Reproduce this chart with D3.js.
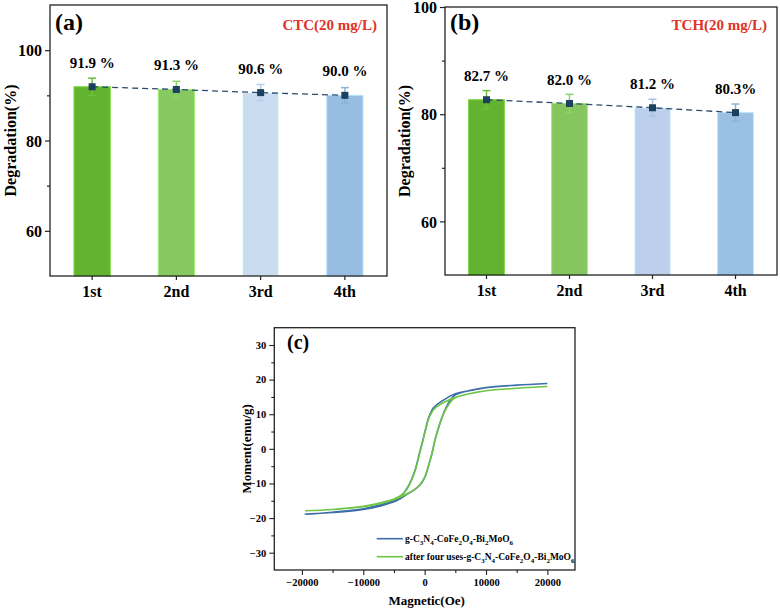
<!DOCTYPE html>
<html><head><meta charset="utf-8">
<script src="https://cdn.jsdelivr.net/npm/d3@7"></script>
<style>
body{margin:0;background:#fff}
svg{display:block}
text{font-family:"Liberation Serif","Times New Roman",serif;font-weight:bold;fill:#000}
</style>
</head><body><svg id="chart" width="780" height="610"></svg>
<script>
// ---------- data ----------
const cycles = ["1st", "2nd", "3rd", "4th"];
const ctcValues = [91.9, 91.3, 90.6, 90.0];
const ctcErrors = [1.9, 1.8, 1.8, 1.7];
const ctcLabels = ["91.9 %", "91.3 %", "90.6 %", "90.0 %"];
const tchValues = [82.7, 82.0, 81.2, 80.3];
const tchErrors = [1.7, 1.7, 1.6, 1.6];
const tchLabels = ["82.7 %", "82.0 %", "81.2 %", "80.3%"];
const degTicks = [60, 80, 100];
const degMinor = [70, 90];

const hystField = [20000, 15000, 10000, 7500, 5000, 4000, 3000, 2000, 1400, 1000, 600, 250, 0, -300, -850, -1550, -2400, -3200, -4000, -5000, -7000, -10000, -15000, -19500,
  -15000, -10000, -7000, -5000, -4000, -3000, -1800, -700, 0, 600, 1200, 1700, 2500, 3300, 4200, 5000, 7500, 10000, 15000, 20000];
const momentFresh = [18.9, 18.4, 17.7, 16.9, 15.9, 15.1, 14.0, 12.8, 11.8, 10.5, 8.8, 6.4, 4.6, 2.4, -1.3, -6.1, -9.9, -12.3, -13.8, -14.9, -16.1, -17.3, -18.3, -18.9,
  -18.4, -17.5, -16.4, -15.3, -14.4, -13.3, -12.0, -10.3, -8.3, -5.1, -1.3, 2.6, 7.4, 11.2, 14.2, 15.6, 16.9, 17.7, 18.4, 18.9];
const momentUsed = [18.0, 17.5, 16.8, 16.0, 14.9, 14.2, 13.3, 12.2, 11.2, 10.0, 8.4, 6.2, 4.5, 2.3, -1.5, -6.3, -10.1, -12.4, -13.6, -14.5, -15.5, -16.6, -17.5, -17.9,
  -17.5, -16.7, -15.7, -14.7, -14.0, -13.1, -11.9, -10.2, -8.2, -5.0, -1.2, 2.7, 7.5, 11.0, 13.5, 14.8, 16.0, 16.8, 17.5, 18.0];
const magXTicks = [-20000, -10000, 0, 10000, 20000];
const magXMinor = [-15000, -5000, 5000, 15000];
const magYTicks = [-30, -20, -10, 0, 10, 20, 30];
const magYMinor = [-25, -15, -5, 5, 15, 25];

// ---------- styles ----------
const barFillA = ["#62b330", "#86c862", "#c9dcf0", "#97bee2"];
const barFillB = ["#63b230", "#85c65e", "#bccfec", "#9ac0e3"];
const errColA = ["#6cc03a", "#8fd06a", "#b5cfea", "#88b3dc"];
const errColB = ["#6cc03a", "#8fd06a", "#a9c2e6", "#88b3dc"];
const markColor = "#1d3f60";
const freshColor = "#3d6ea8";
const usedColor = "#6cc644";

const svg = d3.select("#chart");

function barPanel(o) {
  const g = svg.append("g");
  const x = d3.scaleBand().domain(cycles).range([o.x0, o.x1]).paddingInner(0.57).paddingOuter(0.285);
  const y = d3.scaleLinear().domain(o.domain).range([o.y1, o.y0]);
  g.selectAll("rect.bar").data(o.values).join("rect")
    .attr("x", (d, i) => x(cycles[i])).attr("width", x.bandwidth())
    .attr("y", d => y(d)).attr("height", d => y(o.domain[0]) - y(d))
    .attr("fill", (d, i) => o.fills[i]).attr("stroke", (d, i) => d3.color(o.fills[i]).brighter(0.5)).attr("stroke-width", 1);
  const cx = i => x(cycles[i]) + x.bandwidth() / 2;
  o.values.forEach((v, i) => {
    const eg = g.append("g").attr("stroke", o.errCols[i]).attr("stroke-width", 1.5);
    eg.append("line").attr("x1", cx(i)).attr("x2", cx(i)).attr("y1", y(v + o.errors[i])).attr("y2", y(v - o.errors[i]));
    eg.append("line").attr("x1", cx(i) - 4).attr("x2", cx(i) + 4).attr("y1", y(v + o.errors[i])).attr("y2", y(v + o.errors[i]));
    eg.append("line").attr("x1", cx(i) - 4).attr("x2", cx(i) + 4).attr("y1", y(v - o.errors[i])).attr("y2", y(v - o.errors[i]));
  });
  const line = d3.line().x((d, i) => cx(i)).y(d => y(d));
  g.append("path").datum(o.values).attr("d", line).attr("fill", "none")
    .attr("stroke", "#2c4c6e").attr("stroke-width", 1.3).attr("stroke-dasharray", "6,4");
  g.selectAll("rect.mk").data(o.values).join("rect")
    .attr("x", (d, i) => cx(i) - 3.5).attr("y", d => y(d) - 3.5).attr("width", 7).attr("height", 7).attr("fill", markColor);
  g.selectAll("text.val").data(o.labels).join("text")
    .attr("x", (d, i) => cx(i)).attr("y", (d, i) => y(o.values[i]) - o.labelOff)
    .attr("text-anchor", "middle").attr("font-size", 15).text(d => d);
  const ya = g.append("g").attr("transform", `translate(${o.x0},0)`)
    .call(d3.axisLeft(y).tickValues(degTicks).tickSize(5).tickPadding(3).tickFormat(d3.format("d")));
  ya.selectAll("text").attr("font-size", 16).attr("dy", "0.36em");
  g.append("g").attr("transform", `translate(${o.x0},0)`)
    .call(d3.axisLeft(y).tickValues(degMinor).tickSize(3).tickFormat(""));
  const xa = g.append("g").attr("transform", `translate(0,${o.y1})`)
    .call(d3.axisBottom(x).tickSize(4).tickPadding(6));
  xa.selectAll("text").attr("font-size", 16);
  g.selectAll(".domain").remove();
  g.selectAll(".tick line").attr("stroke", "#222").attr("stroke-width", 1.2);
  g.append("rect").attr("x", o.x0).attr("y", o.y0).attr("width", o.x1 - o.x0).attr("height", o.y1 - o.y0)
    .attr("fill", "none").attr("stroke", "#222").attr("stroke-width", 1.3);
  g.append("text").attr("x", o.ytx).attr("y", (o.y0 + o.y1) / 2).attr("font-size", 16)
    .attr("text-anchor", "middle").attr("transform", `rotate(-90,${o.ytx},${(o.y0 + o.y1) / 2})`).attr("dy", "0.35em")
    .text("Degradation(%)");
  g.append("text").attr("x", o.tagX).attr("y", 30).attr("font-size", 24).text(o.tag);
  g.append("text").attr("x", o.x1 - 10).attr("y", 30).attr("font-size", 15).attr("text-anchor", "end")
    .style("fill", "#e03228").text(o.title);
}

barPanel({x0: 50, x1: 387, y0: 5, y1: 276, domain: [50, 110], values: ctcValues, errors: ctcErrors, labels: ctcLabels,
  fills: barFillA, errCols: errColA, labelOff: 19, ytx: 10, tag: "(a)", tagX: 55, title: "CTC(20 mg/L)"});
barPanel({x0: 445, x1: 777, y0: 7, y1: 275, domain: [50, 100], values: tchValues, errors: tchErrors, labels: tchLabels,
  fills: barFillB, errCols: errColB, labelOff: 18.5, ytx: 404, tag: "(b)", tagX: 450, title: "TCH(20 mg/L)"});

// ---------- panel c ----------
(function () {
  const x0 = 274.3, x1 = 575, y0 = 327.7, y1 = 570;
  const g = svg.append("g");
  const x = d3.scaleLinear().domain([-24500, 24500]).range([x0, x1]);
  const y = d3.scaleLinear().domain([-35, 35]).range([y1, y0]);
  const pts = (arr) => hystField.map((h, i) => [h, arr[i]]);
  const line = d3.line().x(d => x(d[0])).y(d => y(d[1])).curve(d3.curveCatmullRom.alpha(0.5));
  g.append("path").datum(pts(momentFresh)).attr("d", line).attr("fill", "none").attr("stroke", freshColor).attr("stroke-width", 1.6);
  g.append("path").datum(pts(momentUsed)).attr("d", line).attr("fill", "none").attr("stroke", usedColor).attr("stroke-width", 1.6);

  const xa = g.append("g").attr("transform", `translate(0,${y1})`)
    .call(d3.axisBottom(x).tickValues(magXTicks).tickSize(5).tickPadding(4).tickFormat(d3.format("d")));
  xa.selectAll("text").attr("font-size", 10.5);
  g.append("g").attr("transform", `translate(0,${y1})`).call(d3.axisBottom(x).tickValues(magXMinor).tickSize(3).tickFormat(""));
  const ya = g.append("g").attr("transform", `translate(${x0},0)`)
    .call(d3.axisLeft(y).tickValues(magYTicks).tickSize(5).tickPadding(3).tickFormat(d3.format("d")));
  ya.selectAll("text").attr("font-size", 10.5);
  g.append("g").attr("transform", `translate(${x0},0)`).call(d3.axisLeft(y).tickValues(magYMinor).tickSize(3).tickFormat(""));
  g.selectAll(".domain").remove();
  g.selectAll(".tick line").attr("stroke", "#222").attr("stroke-width", 1.1);
  g.append("rect").attr("x", x0).attr("y", y0).attr("width", x1 - x0).attr("height", y1 - y0)
    .attr("fill", "none").attr("stroke", "#222").attr("stroke-width", 1.3);

  g.append("text").attr("x", 287).attr("y", 349).attr("font-size", 20).text("(c)");
  g.append("text").attr("x", 246).attr("y", (y0 + y1) / 2).attr("font-size", 13).attr("text-anchor", "middle")
    .attr("dy", "0.35em").attr("transform", `rotate(-90,246,${(y0 + y1) / 2})`).text("Moment(emu/g)");
  g.append("text").attr("x", (x0 + x1) / 2 + 2).attr("y", 605).attr("font-size", 13).attr("text-anchor", "middle").text("Magnetic(Oe)");

  const legend = [
    {color: freshColor, parts: [["g-C", 0], ["3", 1], ["N", 0], ["4", 1], ["-CoFe", 0], ["2", 1], ["O", 0], ["4", 1], ["-Bi", 0], ["2", 1], ["MoO", 0], ["6", 1]]},
    {color: usedColor, parts: [["after four uses-g-C", 0], ["3", 1], ["N", 0], ["4", 1], ["-CoFe", 0], ["2", 1], ["O", 0], ["4", 1], ["-Bi", 0], ["2", 1], ["MoO", 0], ["6", 1]]}
  ];
  legend.forEach((L, k) => {
    const ly = 538.7 + k * 18;
    g.append("line").attr("x1", 376.7).attr("x2", 403).attr("y1", ly).attr("y2", ly).attr("stroke", L.color).attr("stroke-width", 1.6);
    const t = g.append("text").attr("x", 405).attr("y", ly + 3).attr("font-size", 9.5);
    let prev = 0;
    L.parts.forEach(([s, sub]) => {
      const dy = sub === prev ? 0 : (sub ? 3 : -3);
      t.append("tspan").attr("dy", dy).attr("font-size", sub ? 7 : 9.5).text(s);
      prev = sub;
    });
  });
})();
</script>
</body></html>
